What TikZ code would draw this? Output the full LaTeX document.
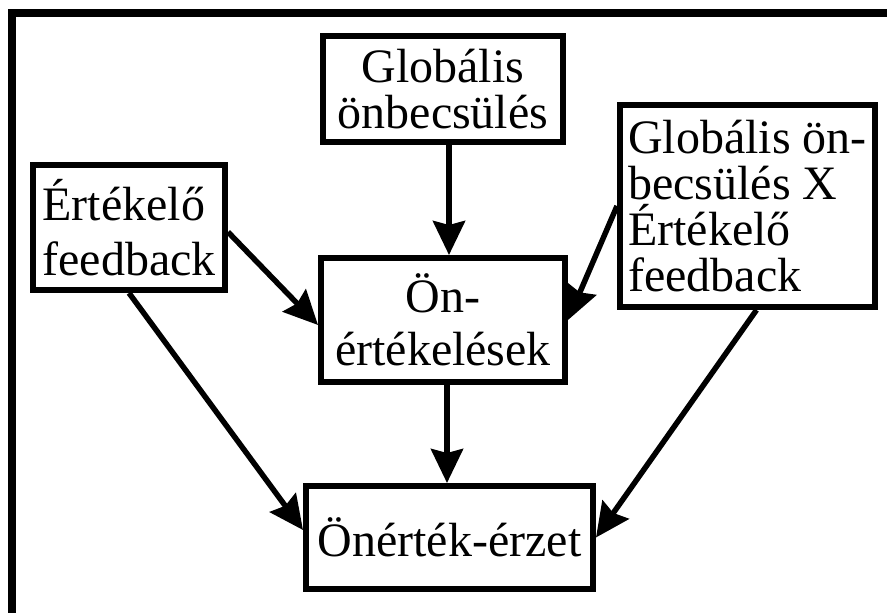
\documentclass[tikz,border=0pt]{standalone}
\usepackage{fontspec}
\setmainfont{Liberation Serif}
\usetikzlibrary{arrows.meta}
\begin{document}
\begin{tikzpicture}[x=1pt,y=-1pt,
  box/.style={draw, line width=6pt, inner sep=0pt, fill=white},
  conn/.style={line width=5.5pt, -{Stealth[length=34pt,width=32pt,inset=4pt]}}]
\useasboundingbox (0,0) rectangle (887,613);
\clip (0,0) rectangle (887,613);
\draw[line width=8pt] (12,13) rectangle (920,650);
\node[box, minimum width=240pt, minimum height=106pt, align=center,
  font=\fontsize{48}{46}\selectfont] (glob) at (443,89) {Globális\\önbecsülés};
\node[box, minimum width=192pt, minimum height=125pt, align=left,
  font=\fontsize{48}{55}\selectfont] (ertek) at (129,227.5) {Értékelő\\feedback};
\node[box, minimum width=255pt, minimum height=202pt, align=left,
  font=\fontsize{48}{46}\selectfont] (globx) at (747.5,206) {Globális ön-\\becsülés X\\Értékelő\\feedback};
\node[box, minimum width=244pt, minimum height=124pt, align=center,
  font=\fontsize{48}{53}\selectfont] (onert) at (443,320) {Ön-\\értékelések};
\node[box, minimum width=287pt, minimum height=103pt, align=center,
  font=\fontsize{48}{48}\selectfont] (onertek) at (449.5,537.5) {Önérték-érzet};
\draw[conn] ([xshift=6pt]glob.south) -- ([xshift=6pt]glob.south |- onert.north);
\draw[conn] ([yshift=-4.5pt]ertek.east) -- ([yshift=-5pt]onert.west);
\draw[conn] (globx.west) -- (onert.east);
\draw[conn] ([xshift=4pt]onert.south) -- ([xshift=4pt]onert.south |- onertek.north);
\draw[conn] (ertek.south) -- ([yshift=7.5pt]onertek.west);
\draw[conn] ([xshift=9pt]globx.south) -- (onertek.east);
\end{tikzpicture}
\end{document}
